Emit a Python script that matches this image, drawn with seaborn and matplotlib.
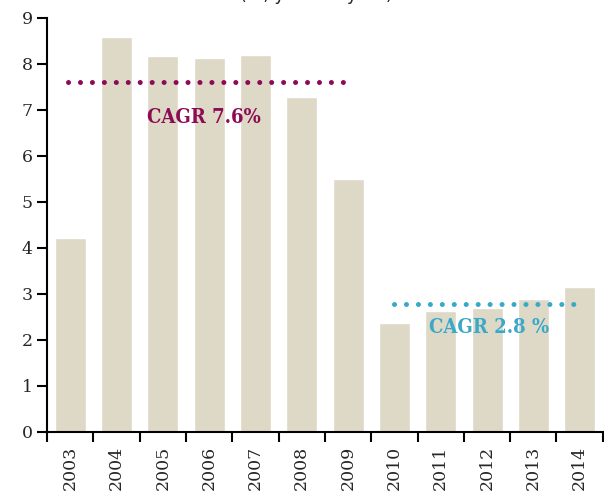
import numpy as np
import pandas as pd
import matplotlib
matplotlib.use("Agg")
import matplotlib.pyplot as plt
import seaborn as sns

# ---- data ----
years = ["2003", "2004", "2005", "2006", "2007", "2008",
         "2009", "2010", "2011", "2012", "2013", "2014"]
growth = [4.22, 8.59, 8.17, 8.13, 8.20, 7.28,
          5.50, 2.37, 2.63, 2.70, 2.89, 3.15]

cagr_labels = ["CAGR 7.6%", "CAGR 2.8 %"]
cagr_values = [7.6, 2.78]
cagr_spans = [(-0.05, 6.0), (6.99, 10.98)]   # in category units
cagr_text_pos = [(2.88, 6.85), (9.04, 2.28)]
cagr_colors = ["#8C0B55", "#3AA9C9"]

BAR_COLOR = "#DED8C6"

sns.set_theme(style="white")
plt.rcParams["font.family"] = ["DejaVu Serif", "DejaVu Sans"]

df = pd.DataFrame({"year": years, "growth": growth})

fig = plt.figure(figsize=(6.04, 4.93), dpi=100)
ax = fig.add_axes([0.078, 0.124, 0.92, 0.84])

sns.barplot(data=df, x="year", y="growth", color=BAR_COLOR,
            width=0.67, saturation=1, ax=ax)

# CAGR dotted lines + labels
for lab, val, (x0, x1), (tx, ty), col in zip(cagr_labels, cagr_values, cagr_spans,
                                             cagr_text_pos, cagr_colors):
    ax.plot([x0, x1], [val, val], color=col, lw=3.6, zorder=5,
            linestyle=(0, (0.01, 2.38)), dash_capstyle="round")
    ax.text(tx, ty, lab, color=col, fontsize=14.5, fontweight="bold",
            ha="center", va="center", fontstretch="condensed",
            family=["DejaVu Serif Condensed", "DejaVu Serif"])

ax.set_xlim(-0.5, len(years) - 0.5)
ax.set_ylim(0, 9)
ax.set_yticks(range(0, 10))
ax.set_xlabel("")
ax.set_ylabel("")

# ticks at category boundaries, labels at centres
ax.set_xticks(np.arange(-0.5, len(years), 1.0))
ax.set_xticklabels([])
ax.set_xticks(np.arange(len(years)), minor=True)
ax.set_xticklabels(years, minor=True, rotation=90, fontsize=12.5)
ax.tick_params(axis="x", which="major", direction="out", length=7, width=1.5,
               color="black", bottom=True)
ax.tick_params(axis="x", which="minor", length=0, pad=10)
ax.tick_params(axis="y", direction="out", length=7, width=1.5, color="black",
               left=True, labelsize=12.5)

for s in ["top", "right"]:
    ax.spines[s].set_visible(False)
for s in ["left", "bottom"]:
    ax.spines[s].set_color("black")
    ax.spines[s].set_linewidth(1.5)

# title, clipped off the top of the picture so only the descenders show
fig.text(240 / 604, 0.999, "Real GDP ", ha="right", va="baseline",
         fontsize=12.5, family="DejaVu Sans")
fig.text(240 / 604, 0.999, "(%, year-on-year)", ha="left", va="baseline",
         fontsize=12.5, family="DejaVu Sans")

fig.savefig("out.png", dpi=100)
